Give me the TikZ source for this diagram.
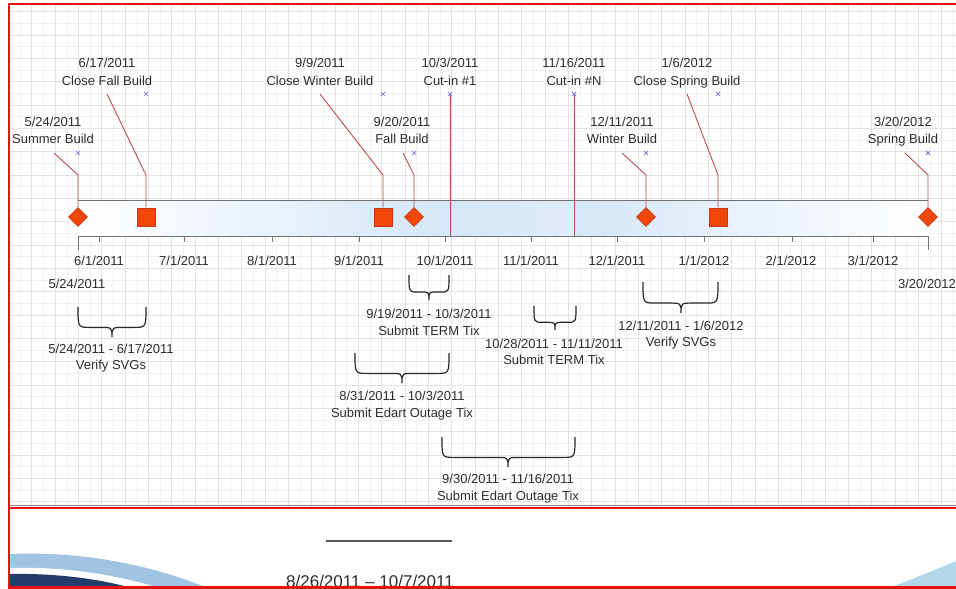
\documentclass[tikz,border=0pt]{standalone}
\usepackage{fontspec}
\setmainfont{Liberation Sans}
\usetikzlibrary{shapes.geometric,shapes.misc}
\definecolor{textcol}{RGB}{45,45,45}
\definecolor{leadred}{RGB}{190,75,80}
\definecolor{mkfill}{RGB}{240,70,10}
\definecolor{mkdraw}{RGB}{205,55,15}
\definecolor{barblue}{RGB}{212,230,247}
\definecolor{bargray}{RGB}{115,115,115}
\definecolor{gridmajor}{RGB}{226,226,226}
\definecolor{gridminor}{RGB}{242,242,242}
\definecolor{framered}{RGB}{228,18,18}
\definecolor{xblue}{RGB}{110,110,230}
\definecolor{wavelight}{RGB}{160,196,226}
\definecolor{wavenavy}{RGB}{35,60,105}
\definecolor{waveright}{RGB}{178,214,234}
\newcommand{\tlbrace}[5]{%
  \pgfmathsetmacro{\tlyh}{#3+0.68*(#4-#3)}%
  \pgfmathsetmacro{\tld}{min(12,(#5-#1)/2.5)}%
  \draw[bracestyle] (#1,#3) .. controls (#1,\tlyh) .. (#1+\tld,\tlyh) -- (#5-\tld,\tlyh)
    .. controls (#5,\tlyh) .. (#5,#4) .. controls (#5,\tlyh) .. (#5+\tld,\tlyh)
    -- (#2-\tld,\tlyh) .. controls (#2,\tlyh) .. (#2,#3);}
\begin{document}
\begin{tikzpicture}[x=1pt,y=-1pt,
  txt/.style={font=\fontsize{13}{16}\selectfont, text=textcol, inner sep=0pt, anchor=base},
  leader/.style={draw=leadred, line width=0.9pt},
  diamk/.style={diamond, fill=mkfill, draw=mkdraw, line width=0.6pt, minimum size=19pt, inner sep=0pt},
  sqmk/.style={rectangle, fill=mkfill, draw=mkdraw, line width=0.6pt, minimum size=18pt, inner sep=0pt},
  xmk/.style={cross out, draw=xblue, line width=0.7pt, minimum size=3.5pt, inner sep=0pt},
  tickline/.style={draw=bargray, line width=1pt},
  bracestyle/.style={draw=black!85, line width=1.2pt},
  majorg/.style={draw=gridmajor, line width=0.7pt},
  minorg/.style={draw=gridminor, line width=0.5pt}]
\useasboundingbox (0,0) rectangle (956,589);
\fill[white] (0,0) rectangle (956,589);
% grid
\foreach \i in {0,...,40} {\draw[minorg] ({20.1+23.33*\i},4) -- ({20.1+23.33*\i},507);}
\foreach \i in {0,...,20} {\draw[minorg] (9,{23.4+23.33*\i}) -- (956,{23.4+23.33*\i});}
\foreach \i in {0,...,40} {\draw[majorg] ({8.4+23.33*\i},4) -- ({8.4+23.33*\i},507);}
\foreach \i in {0,...,21} {\draw[majorg] (9,{11.7+23.33*\i}) -- (956,{11.7+23.33*\i});}
% bar
\shade[left color=white, right color=barblue] (78,200) rectangle (450,236);
\shade[left color=barblue, right color=barblue!75!white] (450,200) rectangle (574,236);
\shade[left color=barblue, right color=white] (574,200) rectangle (928,236);
\draw[draw=bargray, line width=1pt] (78,200) -- (928,200);
\draw[draw=bargray, line width=1pt] (78,236) -- (928,236);
% ticks
\foreach \x in {99,184,272,359,445,531,617,704,792,873} {\draw[tickline] (\x,236) -- (\x,242);}
\draw[tickline] (78,236) -- (78,250);
\draw[tickline] (928,236) -- (928,250);
% axis labels
\node[txt] (a1) at (99,265) {6/1/2011};
\node[txt] (a2) at (184,265) {7/1/2011};
\node[txt] (a3) at (272,265) {8/1/2011};
\node[txt] (a4) at (359,265) {9/1/2011};
\node[txt] (a5) at (445,265) {10/1/2011};
\node[txt] (a6) at (531,265) {11/1/2011};
\node[txt] (a7) at (617,265) {12/1/2011};
\node[txt] (a8) at (704,265) {1/1/2012};
\node[txt] (a9) at (791,265) {2/1/2012};
\node[txt] (a10) at (873,265) {3/1/2012};
\node[txt] (a0) at (77,288) {5/24/2011};
\node[txt] (a11) at (927,288) {3/20/2012};
% event labels
\node[txt] (d1) at (53,126.5) {5/24/2011};
\node[txt] (n1) at (53,143.5) {Summer Build};
\node[txt] (d2) at (107,67.5) {6/17/2011};
\node[txt] (n2) at (107,85) {Close Fall Build};
\node[txt] (d3) at (320,67.5) {9/9/2011};
\node[txt] (n3) at (320,85) {Close Winter Build};
\node[txt] (d4) at (402,126.5) {9/20/2011};
\node[txt] (n4) at (402,143.5) {Fall Build};
\node[txt] (d5) at (450,67.5) {10/3/2011};
\node[txt] (n5) at (450,85) {Cut-in \#1};
\node[txt] (d6) at (574,67.5) {11/16/2011};
\node[txt] (n6) at (574,85) {Cut-in \#N};
\node[txt] (d7) at (622,126.5) {12/11/2011};
\node[txt] (n7) at (622,143.5) {Winter Build};
\node[txt] (d8) at (687,67.5) {1/6/2012};
\node[txt] (n8) at (687,85) {Close Spring Build};
\node[txt] (d9) at (903,126.5) {3/20/2012};
\node[txt] (n9) at (903,143.5) {Spring Build};
% markers
\node[diamk] (m1) at (78,217) {};
\node[sqmk] (m2) at (146,217) {};
\node[sqmk] (m3) at (383,217) {};
\node[diamk] (m4) at (414,217) {};
\node[diamk] (m7) at (646,217) {};
\node[sqmk] (m8) at (718,217) {};
\node[diamk] (m9) at (928,217) {};
% leader coordinates
\coordinate (s1) at (54,153);  \coordinate (b1) at (78,175);
\coordinate (s2) at (107,94);  \coordinate (b2) at (146,175);
\coordinate (s3) at (320,94);  \coordinate (b3) at (383,175);
\coordinate (s4) at (403,153); \coordinate (b4) at (414,175);
\coordinate (s7) at (622,153); \coordinate (b7) at (646,175);
\coordinate (s8) at (687,94);  \coordinate (b8) at (718,175);
\coordinate (s9) at (905,153); \coordinate (b9) at (928,175);
\coordinate (c5t) at (450,94); \coordinate (c5b) at (450,236);
\coordinate (c6t) at (574,94); \coordinate (c6b) at (574,236);
\draw[leader] (s1) -- (b1) -- (m1.north);
\draw[leader] (s2) -- (b2) -- (m2.north);
\draw[leader] (s3) -- (b3) -- (m3.north);
\draw[leader] (s4) -- (b4) -- (m4.north);
\draw[leader] (s7) -- (b7) -- (m7.north);
\draw[leader] (s8) -- (b8) -- (m8.north);
\draw[leader] (s9) -- (b9) -- (m9.north);
\draw[leader] (c5t) -- (c5b);
\draw[leader] (c6t) -- (c6b);
% small blue x marks
\node[xmk] (x1) at (78,153) {};
\node[xmk] (x2) at (146,94) {};
\node[xmk] (x3) at (383,94) {};
\node[xmk] (x4) at (414,153) {};
\node[xmk] (x5) at (450,94) {};
\node[xmk] (x6) at (574,94) {};
\node[xmk] (x7) at (646,153) {};
\node[xmk] (x8) at (718,94) {};
\node[xmk] (x9) at (928,153) {};
% braces
\tlbrace{78}{146}{307}{337}{112}
\node[txt] (r1a) at (111,353) {5/24/2011 - 6/17/2011};
\node[txt] (r1b) at (111,369.5) {Verify SVGs};
\tlbrace{409}{449}{275}{300}{429}
\node[txt] (r2a) at (429,318) {9/19/2011 - 10/3/2011};
\node[txt] (r2b) at (429,335) {Submit TERM Tix};
\tlbrace{534}{576}{306}{330}{555}
\node[txt] (r3a) at (554,348) {10/28/2011 - 11/11/2011};
\node[txt] (r3b) at (554,364.5) {Submit TERM Tix};
\tlbrace{643}{718}{282}{313}{681}
\node[txt] (r4a) at (681,330) {12/11/2011 - 1/6/2012};
\node[txt] (r4b) at (681,346.5) {Verify SVGs};
\tlbrace{355}{449}{353}{383}{402}
\node[txt] (r5a) at (402,400) {8/31/2011 - 10/3/2011};
\node[txt] (r5b) at (402,417) {Submit Edart Outage Tix};
\tlbrace{442}{575}{437}{467}{508}
\node[txt] (r6a) at (508,483) {9/30/2011 - 11/16/2011};
\node[txt] (r6b) at (508,500) {Submit Edart Outage Tix};
% bottom area
\fill[white] (10,509) rectangle (956,589);
\fill[wavelight] (10,554) .. controls (80,551) and (150,564) .. (210,589) -- (10,589) -- cycle;
\fill[white] (10,568) .. controls (70,566) and (125,577) .. (162,589) -- (10,589) -- cycle;
\fill[wavenavy] (10,574) .. controls (60,573) and (105,580) .. (135,589) -- (10,589) -- cycle;
\fill[waveright] (886,589) .. controls (910,580) and (935,570) .. (956,561) -- (956,589) -- cycle;
\draw[draw=black!65, line width=2pt] (326,541) -- (452,541);
\node[font=\fontsize{17}{20}\selectfont, text=textcol, inner sep=0pt, anchor=base] (bt) at (370,587) {8/26/2011 – 10/7/2011};
% frame
\draw[draw=black!45, line width=0.8pt] (10,505.5) -- (956,505.5);
\draw[draw=framered, line width=2pt] (9,508) -- (956,508);
\draw[draw=framered, line width=3pt] (8,587.5) -- (956,587.5);
\draw[draw=framered, line width=2.5pt] (8,4) -- (956,4);
\draw[draw=framered, line width=2.5pt] (9,3) -- (9,589);
\end{tikzpicture}
\end{document}
